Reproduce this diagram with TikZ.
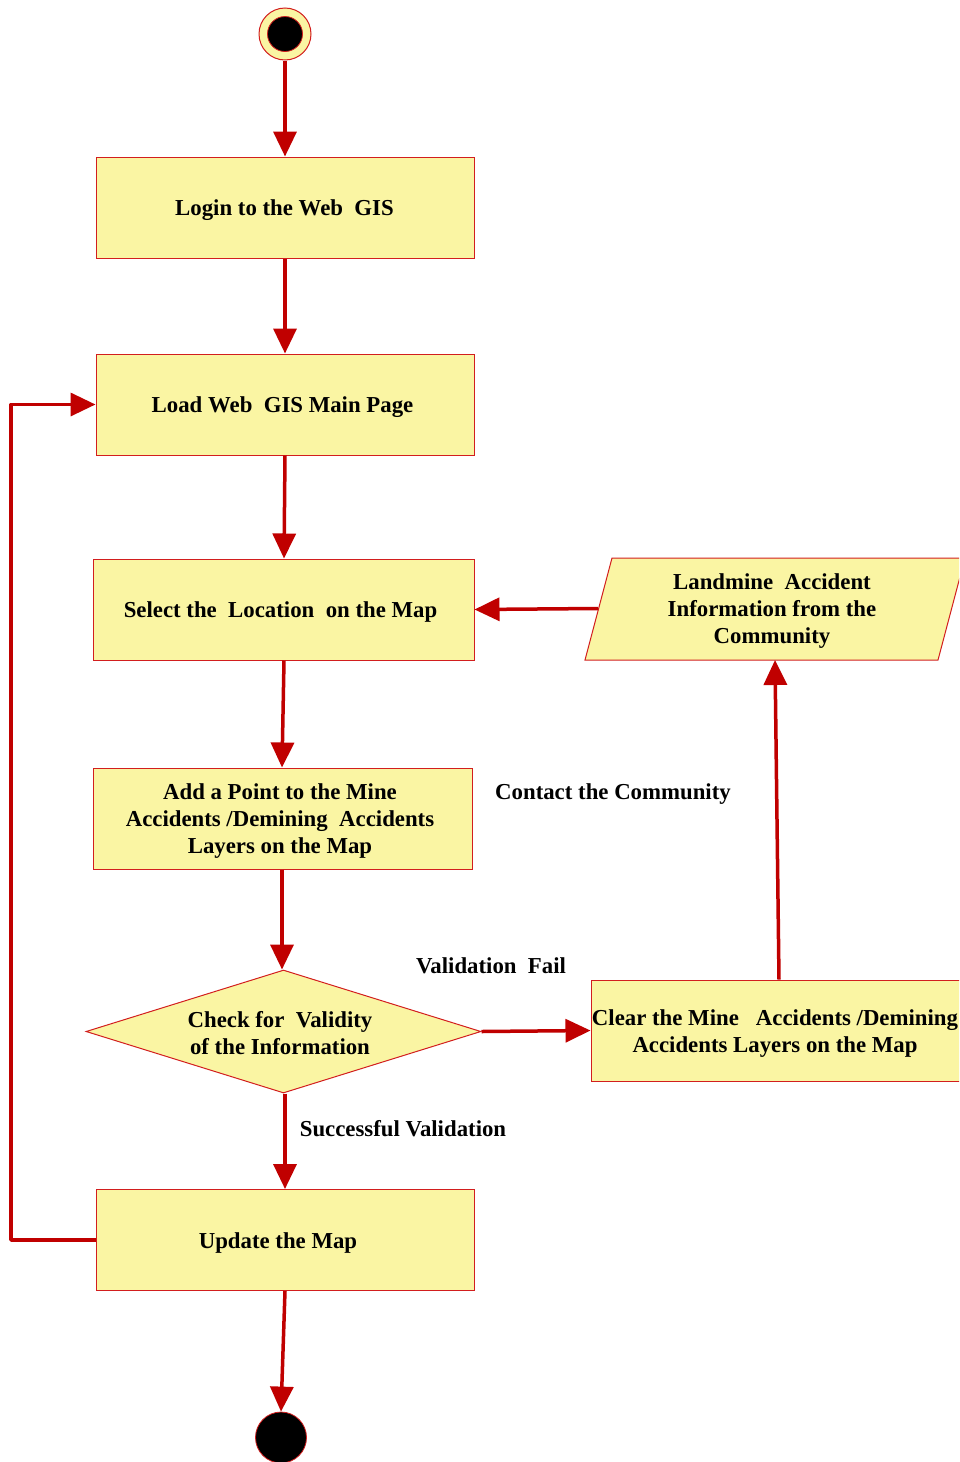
\documentclass[tikz,border=0pt]{standalone}
\usepackage{fontspec}
\setmainfont{Liberation Serif}
\usetikzlibrary{arrows.meta,shapes.geometric}
\definecolor{boxfill}{RGB}{250,245,163}
\definecolor{boxline}{RGB}{210,30,30}
\definecolor{arrred}{RGB}{192,0,0}
\tikzset{
  txt/.style={font=\fontsize{22.8}{27}\selectfont\bfseries, align=center, inner sep=0pt},
  box/.style={draw=boxline, fill=boxfill, line width=1pt, minimum height=101pt, inner sep=0pt},
  arr/.style={draw=arrred, line width=3.5pt, line join=round, -{Triangle[length=25pt,width=23pt]}},
  lbl/.style={txt}
}
\begin{document}
\begin{tikzpicture}[x=1pt,y=-1pt]
\useasboundingbox (0,0) rectangle (959,1462);
\clip (0,0) rectangle (959,1462);
% start
\node[circle, draw=boxline, fill=boxfill, line width=1pt, minimum size=52pt, inner sep=0pt] (start) at (285,34) {};
\node[circle, draw=boxline, fill=black, line width=0.8pt, minimum size=35pt, inner sep=0pt] (startin) at (285,34) {};
% boxes
\node[box, minimum width=378pt] (b1) at (285,207.5) {};
\node[txt] (b1t) at (284.5,210) {Login to the Web\ \ GIS};
\node[box, minimum width=378pt] (b2) at (285,404.5) {};
\node[txt] (b2t) at (282.5,407) {Load Web\ \ GIS Main Page};
\node[box, minimum width=381pt] (b3) at (283.5,609.5) {};
\node[txt] (b3t) at (280.5,612) {Select the\ \ Location\ \ on the Map};
\node[box, minimum width=379pt] (b4) at (282.5,818.5) {};
\node[txt] (b4t) at (280,821) {Add a Point to the Mine\\Accidents /Demining\ \ Accidents\\Layers on the Map};
\node[diamond, draw=boxline, fill=boxfill, line width=1pt, minimum width=395pt, minimum height=123pt, shape aspect=3.2, inner sep=0pt] (d) at (283.5,1031.5) {};
\node[txt] (dt) at (280,1033) {Check for\ \ Validity\\of the Information};
\node[box, minimum width=378pt] (b5) at (285,1240) {};
\node[txt] (b5t) at (278,1243) {Update the Map};
\node[box, minimum width=372pt] (clr) at (777,1030.5) {};
\node[txt] (clrt) at (775,1034) {Clear the Mine\ \ \ Accidents /Demining\\Accidents Layers on the Map};
% parallelogram
\draw[draw=boxline, fill=boxfill, line width=1pt] (585,660) -- (612,558) -- (965,558) -- (938,660) -- cycle;
\node[txt] (info) at (772,611.5) {Landmine\ \ Accident\\Information from the\\Community};
\coordinate (infoL) at (598,608.5);
\coordinate (infoB) at (775,660);
% end
\node[circle, draw=boxline, fill=black, line width=0.8pt, minimum size=51pt, inner sep=0pt] (end) at (281,1437.5) {};
% labels
\node[lbl] (l1) at (613,794) {Contact the Community};
\node[lbl] (l2) at (491,966) {Validation\ \ Fail};
\node[lbl] (l3) at (403,1129) {Successful Validation};
% connectors
\draw[arr] (start.south) -- (b1.north);
\draw[arr] (b1.south) -- (b2.north);
\draw[arr] (b2.south) -- (b3.north -| 284,0);
\draw[arr] (b3.south -| 284,0) -- (b4.north -| 282,0);
\draw[arr] (b4.south -| 282,0) -- (d.north -| 282,0);
\draw[arr] (d.east) -- (clr.west);
\draw[arr] (clr.north -| 779,0) -- (infoB);
\draw[arr] (infoL) -- (b3.east);
\draw[arr] (d.south -| 285,0) -- (b5.north);
\draw[arr] (b5.south) -- (end.north);
\coordinate (loopx) at (11,0);
\draw[arr] (b5.west) -- (b5.west -| loopx) |- (b2.west);
\end{tikzpicture}
\end{document}
